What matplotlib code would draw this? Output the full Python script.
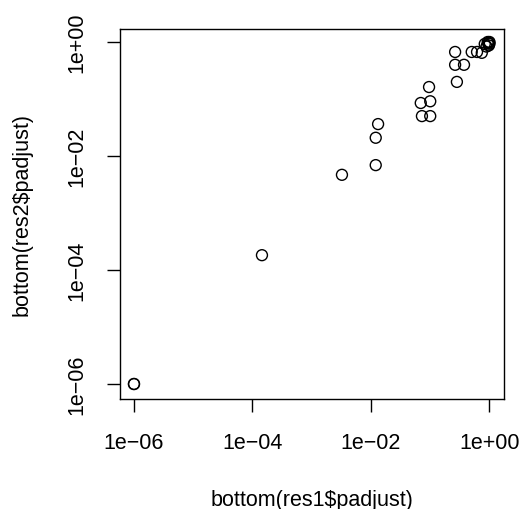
import numpy as np
import matplotlib.pyplot as plt

plt.rcParams['font.family'] = ['Liberation Sans', 'DejaVu Sans']

# log10 of adjusted p-values
log_res1 = [-6.0, -6.0, -3.84, -2.49, -1.92, -1.92, -1.88,
            -1.16, -1.14, -1.00, -1.00, -1.02, -0.55, -0.58, -0.58, -0.43,
            -0.30, -0.21, -0.13, -0.08, -0.05, -0.03, -0.02, 0.0, 0.0, -0.01]
log_res2 = [-6.0, -6.0, -3.74, -2.33, -2.16, -1.68, -1.44,
            -1.07, -1.30, -1.04, -1.30, -0.79, -0.70, -0.40, -0.175, -0.40,
            -0.175, -0.175, -0.19, -0.035, -0.08, 0.0, -0.02, 0.0, -0.03, -0.06]

tick_vals = [1e-6, 1e-4, 1e-2, 1e0]
tick_labels = ['1e\u221206', '1e\u221204', '1e\u221202', '1e+00']

x = 10 ** np.array(log_res1)
y = 10 ** np.array(log_res2)

fig = plt.figure(figsize=(5.23, 5.10), dpi=100)
ax = fig.add_axes([120 / 523, 1 - 400 / 510, 384 / 523, 370 / 510])
ax.scatter(x, y, s=62, facecolors='none', edgecolors='black', linewidths=1.0)

ax.set_xscale('log')
ax.set_yscale('log')
ax.set_xlim(10 ** -6.236, 10 ** 0.245)
ax.set_ylim(10 ** -6.263, 10 ** 0.228)
ax.minorticks_off()
ax.set_xticks(tick_vals)
ax.set_xticklabels(tick_labels)
ax.set_yticks(tick_vals)
ax.set_yticklabels(tick_labels, rotation=90, va='center')
ax.tick_params(length=9.5, width=1, labelsize=15.5, pad=14)
for s in ax.spines.values():
    s.set_linewidth(1)

ax.set_xlabel('bottom(res1\\$padjust)', fontsize=15.5, labelpad=26)
ax.set_ylabel('bottom(res2\\$padjust)', fontsize=15.5, labelpad=24)

fig.savefig('out.png', dpi=100)
